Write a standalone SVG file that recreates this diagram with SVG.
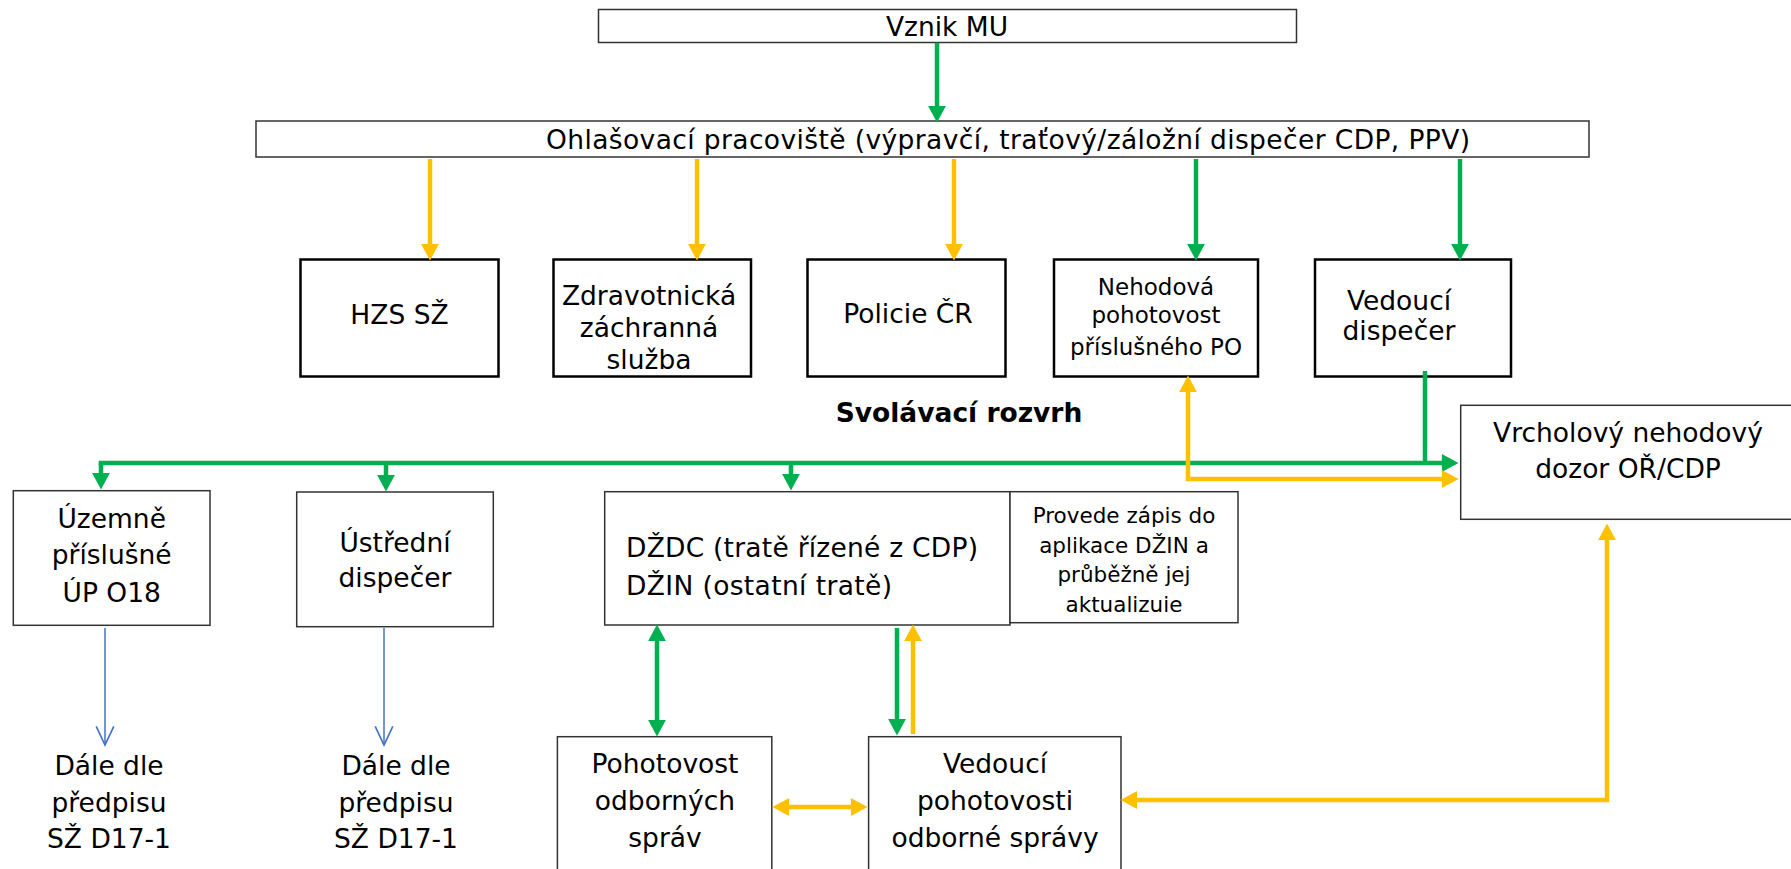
<svg xmlns="http://www.w3.org/2000/svg" width="1791" height="869" viewBox="0 0 1791 869">
<style>
text{font-family:"DejaVu Sans",Verdana,sans-serif;font-size:26.5px;fill:#000}
.c{text-anchor:middle}
.sm{font-size:23px}
.xs{font-size:21.5px}
.b{font-weight:bold}
.bx{fill:#fff;stroke:#333;stroke-width:1.5}
.bk{fill:#fff;stroke:#000;stroke-width:2.5}
.g{fill:none;stroke:#00B050;stroke-width:4.5}
.y{fill:none;stroke:#FFC000;stroke-width:4.5}
.bl{fill:none;stroke:#4472C4;stroke-width:1.5}
</style>
<defs>
<marker id="ag" markerUnits="userSpaceOnUse" markerWidth="20" markerHeight="20" refX="1" refY="0" viewBox="0 -9 16 18" orient="auto-start-reverse"><path d="M0,-8 L15,0 L0,8 Z" fill="#00B050"/></marker>
<marker id="ay" markerUnits="userSpaceOnUse" markerWidth="20" markerHeight="20" refX="1" refY="0" viewBox="0 -9 16 18" orient="auto-start-reverse"><path d="M0,-8 L15,0 L0,8 Z" fill="#FFC000"/></marker>
<marker id="ab" markerUnits="userSpaceOnUse" markerWidth="22" markerHeight="22" refX="17" refY="0" viewBox="-1 -10 20 20" orient="auto"><path d="M0,-8 L17,0 L0,8" fill="none" stroke="#4472C4" stroke-width="1.5"/></marker>
</defs>

<g id="n-vznik"><rect class="bx" x="598.5" y="9.5" width="698" height="33"/><text class="c" x="947" y="36">Vznik MU</text></g>
<g id="n-ohlas"><rect class="bx" x="256" y="121" width="1333" height="36"/><text x="546" y="149" textLength="924" lengthAdjust="spacing">Ohlašovací pracoviště (výpravčí, traťový/záložní dispečer CDP, PPV)</text></g>

<g id="n-hzs"><rect class="bk" x="300.5" y="259.5" width="198" height="117"/><text class="c" x="399.5" y="324">HZS SŽ</text></g>
<g id="n-zzs"><rect class="bk" x="553.5" y="259.5" width="197.5" height="117"/><text class="c" x="649" y="305">Zdravotnická</text><text class="c" x="649" y="337">záchranná</text><text class="c" x="649" y="369">služba</text></g>
<g id="n-policie"><rect class="bk" x="807.5" y="259.5" width="198" height="117"/><text class="c" x="908" y="323">Policie ČR</text></g>
<g id="n-nehodova"><rect class="bk" x="1054" y="259.5" width="204" height="117"/><text class="c sm" x="1156" y="295">Nehodová</text><text class="c sm" x="1156" y="323">pohotovost</text><text class="c sm" x="1156" y="355">příslušného PO</text></g>
<g id="n-vedouci-disp"><rect class="bk" x="1315" y="259.5" width="196" height="117"/><text class="c" x="1399" y="310">Vedoucí</text><text class="c" x="1399" y="340">dispečer</text></g>

<g id="n-svolavaci"><text class="c b" x="959" y="422">Svolávací rozvrh</text></g>

<g id="n-vrcholovy"><rect class="bx" x="1460.7" y="405.3" width="340" height="114"/><text class="c" x="1628" y="442">Vrcholový nehodový</text><text class="c" x="1628" y="478">dozor OŘ/CDP</text></g>

<g id="n-uzemne"><rect class="bx" x="13.3" y="490.7" width="196.7" height="134.6"/><text class="c" x="111.7" y="528">Územně</text><text class="c" x="111.7" y="564">příslušné</text><text class="c" x="111.7" y="602">ÚP O18</text></g>
<g id="n-ustredni"><rect class="bx" x="296.7" y="492" width="196.6" height="134.7"/><text class="c" x="395" y="552">Ústřední</text><text class="c" x="395" y="587">dispečer</text></g>
<g id="n-dzdc"><rect class="bx" x="604.7" y="491.7" width="405.3" height="133.3"/><text x="626" y="557" textLength="352" lengthAdjust="spacing">DŽDC (tratě řízené z CDP)</text><text x="626" y="595" textLength="266" lengthAdjust="spacing">DŽIN (ostatní tratě)</text></g>
<g id="n-provede"><rect class="bx" x="1010" y="491.7" width="228" height="131"/><text class="c xs" x="1124" y="523">Provede zápis do</text><text class="c xs" x="1124" y="553">aplikace DŽIN a</text><text class="c xs" x="1124" y="582">průběžně jej</text><text class="c xs" x="1124" y="612">aktualizuie</text></g>

<g id="n-dale1"><text class="c" x="109" y="775">Dále dle</text><text class="c" x="109" y="812">předpisu</text><text class="c" x="109" y="848">SŽ D17-1</text></g>
<g id="n-dale2"><text class="c" x="396" y="775">Dále dle</text><text class="c" x="396" y="812">předpisu</text><text class="c" x="396" y="848">SŽ D17-1</text></g>

<g id="n-pohotovost"><rect class="bx" x="557.4" y="736.7" width="214.4" height="150"/><text class="c" x="665" y="773">Pohotovost</text><text class="c" x="665" y="810">odborných</text><text class="c" x="665" y="847">správ</text></g>
<g id="n-vedouci-poh"><rect class="bx" x="868.6" y="736.7" width="252.4" height="150"/><text class="c" x="995" y="773">Vedoucí</text><text class="c" x="995" y="810">pohotovosti</text><text class="c" x="995" y="847">odborné správy</text></g>

<g id="connectors">
<path class="g" d="M937,42.7 V107" marker-end="url(#ag)"/>
<path class="y" d="M430,159 V245" marker-end="url(#ay)"/>
<path class="y" d="M697,159 V245" marker-end="url(#ay)"/>
<path class="y" d="M954,159 V245" marker-end="url(#ay)"/>
<path class="g" d="M1196,159 V245" marker-end="url(#ag)"/>
<path class="g" d="M1460,159 V245" marker-end="url(#ag)"/>

<path class="g" d="M1425,371 V463"/>
<path class="g" d="M98.7,463 H1443" marker-end="url(#ag)"/>
<path class="g" d="M101,463 V474" marker-end="url(#ag)"/>
<path class="g" d="M386,463 V476" marker-end="url(#ag)"/>
<path class="g" d="M791,463 V475" marker-end="url(#ag)"/>

<path class="y" d="M1188,391 V479 H1443" marker-start="url(#ay)" marker-end="url(#ay)"/>

<path class="bl" d="M105,628 V745" marker-end="url(#ab)"/>
<path class="bl" d="M384,628 V745" marker-end="url(#ab)"/>

<path class="g" d="M657,640 V721" marker-start="url(#ag)" marker-end="url(#ag)"/>
<path class="g" d="M897,628 V720" marker-end="url(#ag)"/>
<path class="y" d="M913,734 V640" marker-end="url(#ay)"/>
<path class="y" d="M788,807 H852" marker-start="url(#ay)" marker-end="url(#ay)"/>
<path class="y" d="M1136,800 H1607 V539" marker-start="url(#ay)" marker-end="url(#ay)"/>
</g>
</svg>
